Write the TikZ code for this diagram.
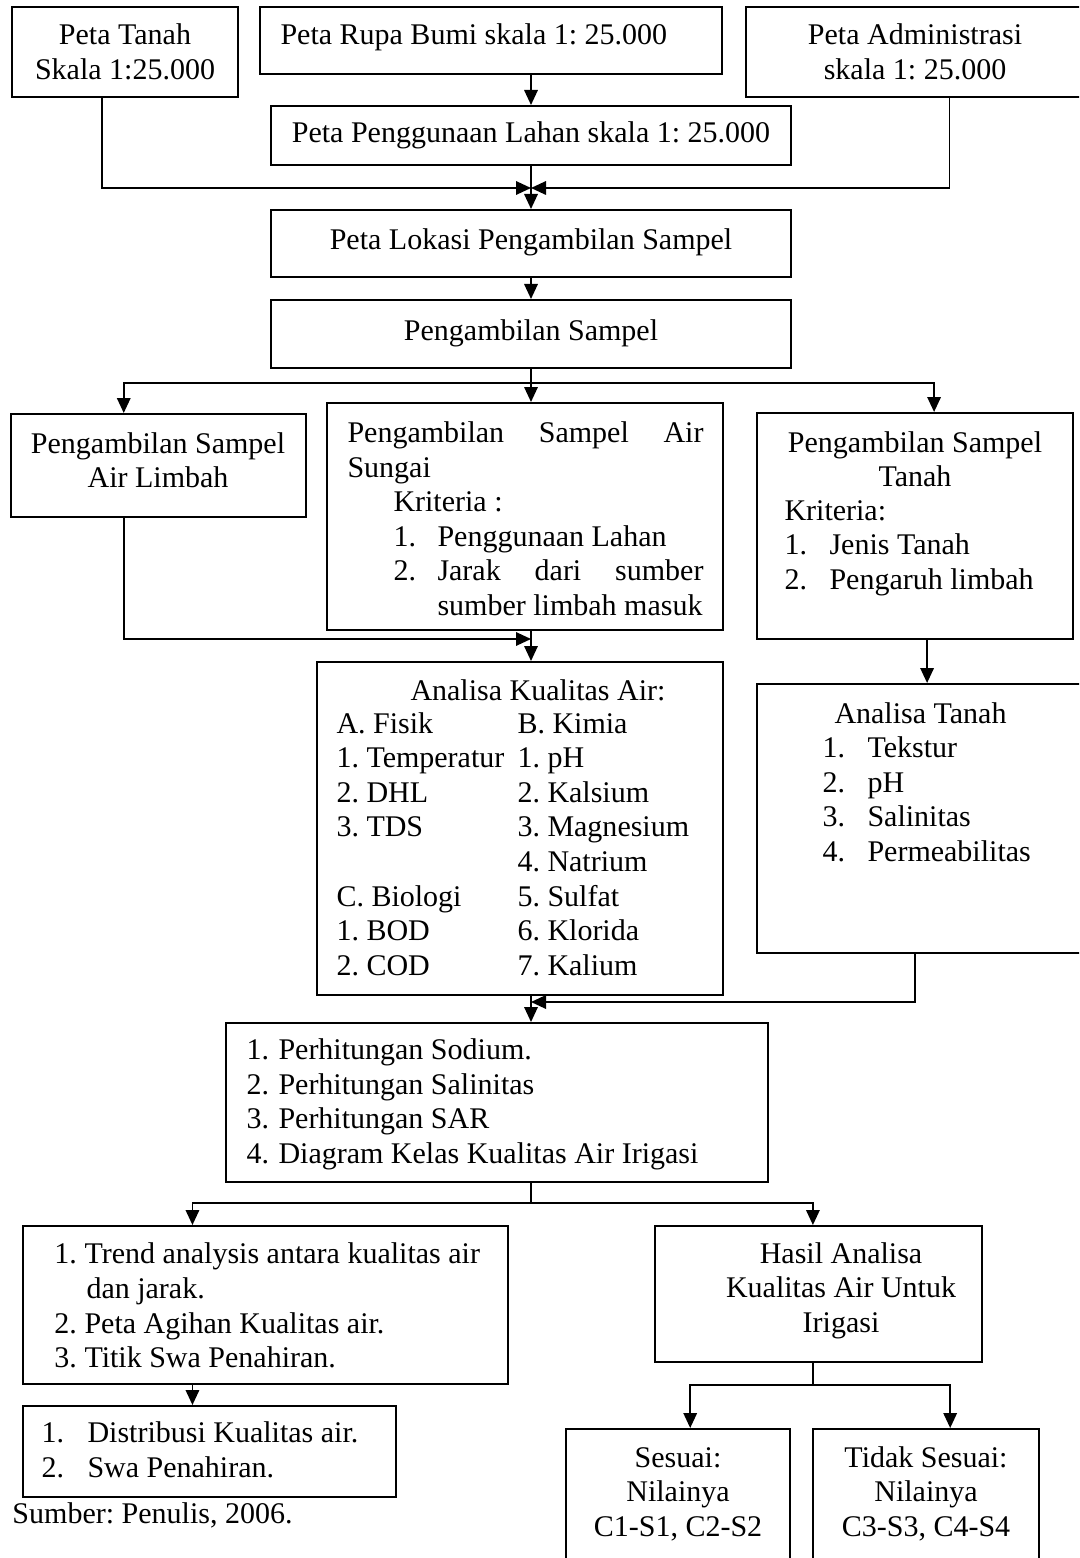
\documentclass[tikz,border=0pt]{standalone}
\usepackage{fontspec}
\setmainfont{Liberation Serif}
\usetikzlibrary{arrows.meta,calc,fit}
\frenchspacing

\tikzset{
  box/.style={draw,line width=0.8pt,inner sep=0pt},
  txt/.style={anchor=base west,inner sep=0pt},
  ctxt/.style={anchor=base,inner sep=0pt},
  wire/.style={line width=0.7pt},
  link/.style={wire,-{Triangle[length=6pt,width=5.4pt]}}
}

\begin{document}
\begin{tikzpicture}[x=0.4pt,y=-0.4pt,font=\fontsize{12}{14}\selectfont]
  \useasboundingbox (0,0) rectangle (1079,1558);
  \clip (0,0) rectangle (1079,1558);

  % peta dasar
  \node[box,fit={(12,7) (238,97)}] (tanah) {};
  \node[box,fit={(260,7) (722,74)}] (rupa) {};
  \node[box,fit={(746,7) (1085,97)}] (admin) {};
  \node[box,fit={(271,106) (791,165)}] (guna) {};
  \node[box,fit={(271,210) (791,277)}] (lokasi) {};
  \node[box,fit={(271,300) (791,368)}] (sampel) {};
  \foreach \t [count=\i from 0] in {Peta Tanah,Skala 1:25.000}
    \node[ctxt] (tanah\i) at (125,45+35*\i) {\t};
  \node[txt] (rupa0) at (280,45) {Peta Rupa Bumi skala 1: 25.000};
  \foreach \t [count=\i from 0] in {Peta Administrasi,skala 1: 25.000}
    \node[ctxt] (admin\i) at (915,45+35*\i) {\t};
  \node[ctxt] (guna0) at (531,143) {Peta Penggunaan Lahan skala 1: 25.000};
  \node[ctxt] (lokasi0) at (531,250) {Peta Lokasi Pengambilan Sampel};
  \node[ctxt] (sampel0) at (531,340) {Pengambilan Sampel};

  % pengambilan sampel
  \node[box,fit={(11,414) (306,517)}] (limbah) {};
  \node[box,fit={(327,403) (723,630)}] (sungai) {};
  \node[box,fit={(757,413) (1073,639)}] (tanahs) {};
  \foreach \t [count=\i from 0] in {Pengambilan Sampel,Air Limbah}
    \node[ctxt] (limbah\i) at (158,453+34.6*\i) {\t};
  \node[txt] (sungai0) at (347,442) {\makebox[142.4pt][s]{Pengambilan Sampel Air}};
  \node[txt] (sungai1) at (347,477) {Sungai};
  \node[txt] (sungai2) at (393,511) {Kriteria :};
  \node[txt] (sungai3) at (393,546) {1.};
  \node[txt] (sungai4) at (437,546) {Penggunaan Lahan};
  \node[txt] (sungai5) at (393,580) {2.};
  \node[txt] (sungai6) at (437,580) {\makebox[106.4pt][s]{Jarak dari sumber}};
  \node[txt] (sungai7) at (437,615) {sumber limbah masuk};
  \foreach \t [count=\i from 0] in {Pengambilan Sampel,Tanah}
    \node[ctxt] (tanahs\i) at (915,452+34.6*\i) {\t};
  \node[txt] (krit) at (784,520) {Kriteria:};
  \foreach \t [count=\i] in {Jenis Tanah,Pengaruh limbah}{
    \node[txt] (kn\i) at (784,520+34.6*\i) {\i.};
    \node[txt] (kt\i) at (829,520+34.6*\i) {\t};
  }

  % analisa
  \node[box,fit={(317,662) (723,995)}] (air) {};
  \node[box,fit={(757,684) (1085,953)}] (atanah) {};
  \node[txt] (air0) at (410,700) {Analisa Kualitas Air:};
  \foreach \y/\t in {0/A. Fisik,1/1. Temperatur,2/2. DHL,3/3. TDS,5/C. Biologi,6/1. BOD,7/2. COD}
    \node[txt] (fis\y) at (336,733+34.6*\y) {\t};
  \foreach \t [count=\y from 0] in {B. Kimia,1. pH,2. Kalsium,3. Magnesium,4. Natrium,5. Sulfat,6. Klorida,7. Kalium}
    \node[txt] (kim\y) at (517,733+34.6*\y) {\t};
  \node[txt] (atanah0) at (834,723) {Analisa Tanah};
  \foreach \t [count=\i] in {Tekstur,pH,Salinitas,Permeabilitas}{
    \node[txt] (an\i) at (822,723+34.6*\i) {\i.};
    \node[txt] (at\i) at (867,723+34.6*\i) {\t};
  }

  % perhitungan
  \node[box,fit={(226,1023) (768,1182)}] (hitung) {};
  \foreach \t [count=\i] in {Perhitungan Sodium.,Perhitungan Salinitas,Perhitungan SAR,Diagram Kelas Kualitas Air Irigasi}{
    \node[txt] (hn\i) at (246,1025+34.6*\i) {\i.};
    \node[txt] (ht\i) at (278,1025+34.6*\i) {\t};
  }

  % hasil
  \node[box,fit={(23,1226) (508,1384)}] (trend) {};
  \node[box,fit={(655,1226) (982,1362)}] (hasil) {};
  \node[box,fit={(23,1406) (396,1497)}] (distr) {};
  \node[box,fit={(566,1429) (790,1580)}] (sesuai) {};
  \node[box,fit={(813,1429) (1039,1580)}] (tidak) {};
  \node[txt] (trend0) at (54,1263) {1. Trend analysis antara kualitas air};
  \node[txt] (trend1) at (86,1298) {dan jarak.};
  \node[txt] (trend2) at (54,1333) {2. Peta Agihan Kualitas air.};
  \node[txt] (trend3) at (54,1367) {3. Titik Swa Penahiran.};
  \foreach \t [count=\i from 0] in {Hasil Analisa,Kualitas Air Untuk,Irigasi}
    \node[ctxt] (hasil\i) at (841,1263+34.6*\i) {\t};
  \foreach \t [count=\i] in {Distribusi Kualitas air.,Swa Penahiran.}{
    \node[txt] (dn\i) at (41,1408+34.6*\i) {\i.};
    \node[txt] (dt\i) at (87,1408+34.6*\i) {\t};
  }
  \foreach \t [count=\i from 0] in {Sesuai:,Nilainya,{C1-S1, C2-S2}}
    \node[ctxt] (sesuai\i) at (678,1467+34.6*\i) {\t};
  \foreach \t [count=\i from 0] in {Tidak Sesuai:,Nilainya,{C3-S3, C4-S4}}
    \node[ctxt] (tidak\i) at (926,1467+34.6*\i) {\t};
  \node[txt] (sumber) at (12,1523) {Sumber: Penulis, 2006.};

  % panah
  \coordinate (mid) at (guna.south);
  \coordinate (jn) at (mid |- 0,188);
  \draw[link] (rupa.south -| mid) -- (guna.north);
  \draw[link] ($(tanah.south west)!0.4!(tanah.south east)$) |- (jn);
  \draw[link] ($(admin.south west)!0.6!(admin.south east)$) |- (jn);
  \draw[link] (guna.south) -- (lokasi.north);
  \draw[link] (lokasi.south) -- (sampel.north);
  \coordinate (sp) at (mid |- 0,383);
  \draw[wire] (sampel.south) -- (sp);
  \draw[link] (sp) -| ($(limbah.north west)!0.383!(limbah.north east)$);
  \draw[link] (sp) -| ($(tanahs.north west)!0.56!(tanahs.north east)$);
  \draw[link] (sp) -- (sp |- sungai.north);
  \coordinate (jl) at (mid |- 0,639);
  \draw[link] ($(limbah.south west)!0.383!(limbah.south east)$) |- (jl);
  \draw[link] (mid |- sungai.south) -- (mid |- air.north);
  \coordinate (ts) at ($(tanahs.south west)!0.538!(tanahs.south east)$);
  \draw[link] (ts) -- (ts |- atanah.north);
  \coordinate (jt) at (mid |- 0,1002);
  \draw[link] ($(atanah.south west)!0.482!(atanah.south east)$) |- (jt);
  \draw[link] (mid |- air.south) -- (mid |- hitung.north);
  \coordinate (hs) at (mid |- 0,1203);
  \draw[wire] (mid |- hitung.south) -- (hs);
  \draw[link] (hs) -| ($(trend.north west)!0.35!(trend.north east)$);
  \draw[link] (hs) -| ($(hasil.north west)!0.483!(hasil.north east)$);
  \coordinate (tr) at ($(trend.south west)!0.35!(trend.south east)$);
  \draw[link] (tr) -- (tr |- distr.north);
  \coordinate (hj) at ($(hasil.south west)!0.483!(hasil.south east) + (0,22)$);
  \draw[wire] ($(hasil.south west)!0.483!(hasil.south east)$) -- (hj);
  \draw[link] (hj) -| ($(sesuai.north west)!0.554!(sesuai.north east)$);
  \draw[link] (hj) -| ($(tidak.north west)!0.606!(tidak.north east)$);
\end{tikzpicture}
\end{document}
